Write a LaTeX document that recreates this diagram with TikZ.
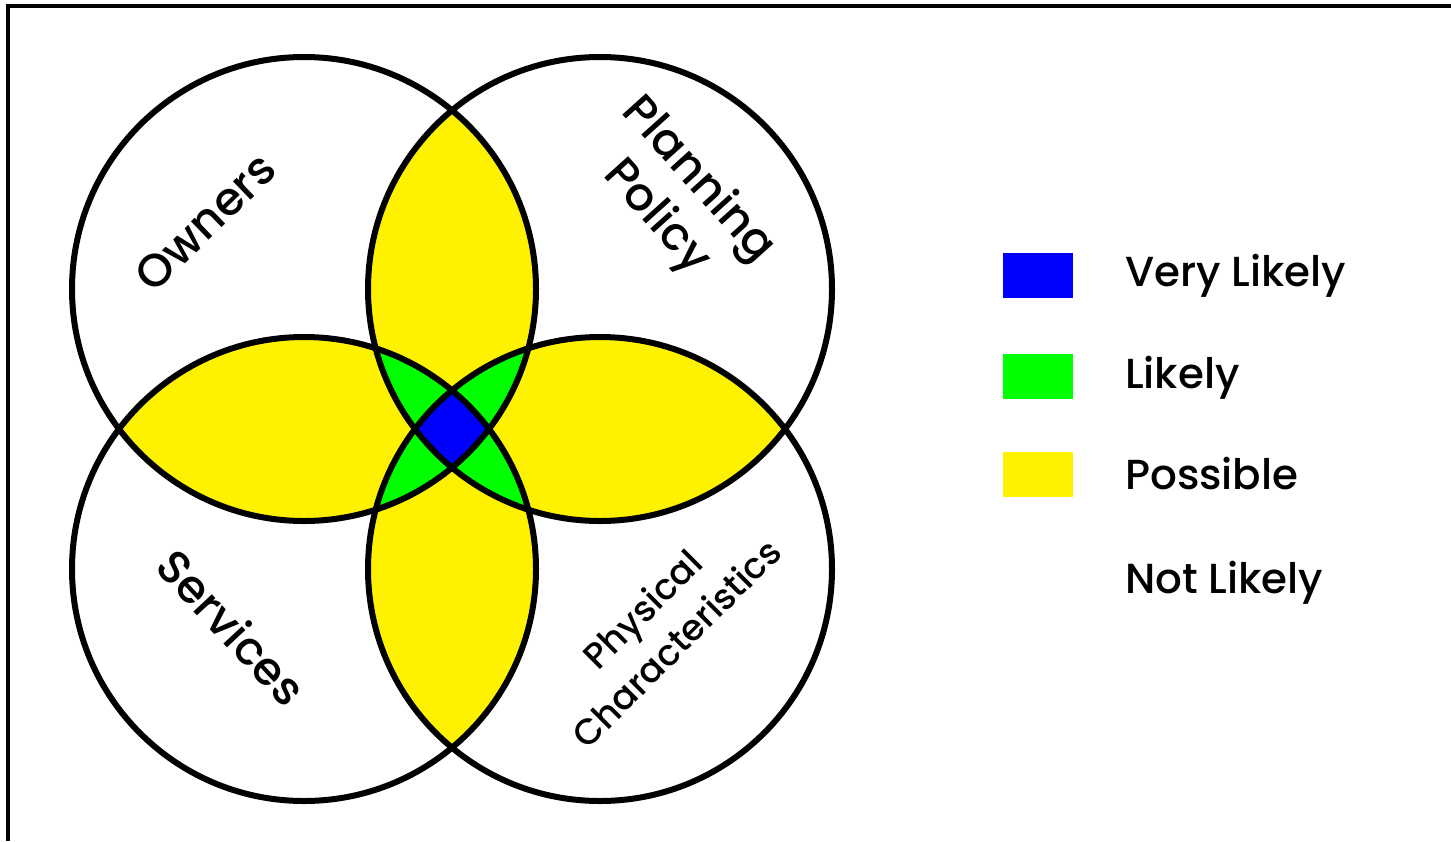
\documentclass[tikz,border=0pt]{standalone}
\usepackage{fontspec}
\setmainfont{Poppins}[UprightFont={* Medium}]
\begin{document}
\begin{tikzpicture}[x=1pt,y=-1pt,
  lbl/.style={font=\fontsize{46}{56}\selectfont, inner sep=0pt, align=center},
  slbl/.style={font=\fontsize{36}{48}\selectfont, inner sep=0pt, align=center},
  leg/.style={font=\fontsize{42}{48}\selectfont, inner sep=0pt, anchor=base west},
  swatch/.style={minimum width=70pt, minimum height=45pt, inner sep=0pt, draw=none},
  ring/.style={line width=6pt}]
\useasboundingbox (0,0) rectangle (1451,841);
\def\rad{232pt}
% frame
\draw[line width=4pt] (8,841) -- (8,6) -- (1451,6);
% centres
\coordinate (cA) at (304,289);
\coordinate (cB) at (600,289);
\coordinate (cC) at (304,569);
\coordinate (cD) at (600,569);
% two overlaps
\foreach \i/\j in {A/B,A/C,A/D,B/C,B/D,C/D}{
  \begin{scope}\clip (c\i) circle[radius=\rad]; \fill[yellow] (c\j) circle[radius=\rad];\end{scope}}
% three overlaps
\foreach \i/\j/\k in {A/B/C,A/B/D,A/C/D,B/C/D}{
  \begin{scope}\clip (c\i) circle[radius=\rad]; \clip (c\j) circle[radius=\rad]; \fill[green] (c\k) circle[radius=\rad];\end{scope}}
% four overlaps
\begin{scope}\clip (cA) circle[radius=\rad]; \clip (cB) circle[radius=\rad]; \clip (cC) circle[radius=\rad]; \fill[blue] (cD) circle[radius=\rad];\end{scope}
% outlines
\foreach \i in {A,B,C,D}{\draw[ring] (c\i) circle[radius=\rad];}
% labels
\node[lbl, rotate=44] (owners) at (205,222) {Owners};
\node[lbl, rotate=-48] (planning) at (677,199) {Planning\\Policy};
\node[lbl, rotate=-47] (services) at (232,627) {Services};
\node[slbl, rotate=45] (physical) at (659,626) {Physical\\Characteristics};
% legend
\node[swatch, fill=blue] (s1) at (1038,275.5) {};
\node[swatch, fill=green] (s2) at (1038,376.5) {};
\node[swatch, fill=yellow] (s3) at (1038,474.5) {};
\node[leg] (t1) at (1125,286) {Very Likely};
\node[leg] (t2) at (1125,388) {Likely};
\node[leg] (t3) at (1125,489) {Possible};
\node[leg] (t4) at (1125,593) {Not Likely};
\end{tikzpicture}
\end{document}
